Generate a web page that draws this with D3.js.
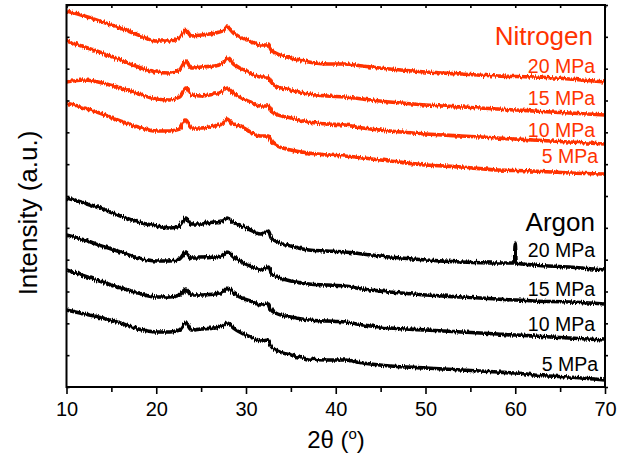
<!DOCTYPE html>
<html>
<head>
<meta charset="utf-8">
<script src="https://cdn.jsdelivr.net/npm/d3@7"></script>
<style>
  body { margin: 0; background: #fff; }
  svg text { font-family: "Liberation Sans", Arial, sans-serif; }
</style>
</head>
<body>
<svg id="chart" width="638" height="457"></svg>
<script>
// Diffraction angle 2θ (degrees) shared by all patterns
const twoTheta = [10, 12, 14, 16, 18, 20, 21.5, 22.6, 23.3, 23.9, 25, 26.5, 27.4, 27.9, 28.6, 29.3,
  30.5, 31.6, 32.5, 32.8, 33.3, 35, 37, 39, 41, 43, 46, 50, 54, 58, 59.9, 60, 60.1, 62, 66, 70];

// Stacked intensities (a.u.), Nitrogen atmosphere
const nitrogen20 = [376, 371, 365, 359, 352, 346, 346, 349, 357, 351, 352, 354, 356, 360, 354, 350,
  346, 342, 342, 337, 334, 329, 325, 323, 323, 321, 318, 315, 313, 311, 310.5, 310.5, 310.5, 310, 308, 305];
const nitrogen15 = [346, 340, 334, 327, 320, 315, 314, 317, 326, 319, 320, 321, 324, 329, 323, 319,
  314, 310, 310, 305, 301, 297, 293, 291, 290, 288, 285, 282, 280, 278, 277, 277, 277, 276, 274, 272];
const nitrogen10 = [305, 307, 304, 299, 293, 288, 287, 290, 299, 292, 291, 293, 295, 299, 294, 290,
  285, 281, 281, 276, 273, 269, 265, 263, 262, 259, 256, 253, 251, 249, 248, 248, 248, 247, 245, 243];
const nitrogen5 = [284, 279, 273, 266, 260, 256, 256, 258, 267, 259, 259, 261, 263, 268, 262, 261,
  255, 251, 251, 246, 242, 237, 234, 232, 231, 229, 226, 222, 220, 217, 216.5, 216.5, 216.5, 216, 214, 213];

// Stacked intensities (a.u.), Argon atmosphere
const argon20 = [189, 184, 178, 171, 165, 161, 159, 161, 169, 163, 163, 165, 166, 169, 165, 162,
  157, 153, 156, 149, 146, 141, 137, 136, 135, 133, 130, 127, 125, 124, 124, 144, 124, 122, 120, 117];
const argon15 = [152, 147, 141, 135, 129, 126, 126, 128, 135, 129, 129, 130, 132, 135, 130, 126,
  121, 117, 120, 114, 111, 106, 103, 102, 101, 98, 95, 92, 90, 88, 87, 87, 87, 86, 85, 83];
const argon10 = [117, 111, 105, 99, 94, 90, 90, 92, 98, 92, 92, 93, 95, 99, 94, 90,
  86, 82, 83, 77, 74, 70, 67, 66, 65, 62, 59, 57, 55, 53, 52, 52, 52, 51, 49, 47];
const argon5 = [77, 73, 69, 64, 58, 55, 55, 57, 64, 57, 58, 59, 61, 64, 59, 55,
  50, 46, 47, 41, 37, 32, 28, 27, 27, 24, 21, 19, 17, 15, 14, 14, 14, 12, 10, 7];

const pressures = ["20 MPa", "15 MPa", "10 MPa", "5 MPa"];
const gases = ["Nitrogen", "Argon"];
const xTickValues = [10, 20, 30, 40, 50, 60, 70];
const xMinorTickValues = [15, 25, 35, 45, 55, 65];

// ---- layout ----
const svg = d3.select("#chart");
const plot = { left: 66.5, right: 605, top: 5, bottom: 387 };
const red = "#ff3300";

const x = d3.scaleLinear().domain([10, 70]).range([plot.left, plot.right]);
const y = d3.scaleLinear().domain([0, 382]).range([plot.bottom, plot.top]);
const yTickValues = d3.range(13).map(i => i * 382 / 12);

const defs = svg.append("defs");
defs.append("clipPath").attr("id", "plotClip")
  .append("rect")
  .attr("x", plot.left).attr("y", plot.top)
  .attr("width", plot.right - plot.left).attr("height", plot.bottom - plot.top);

// detector-noise texture on the traces
const grain = defs.append("filter").attr("id", "grain")
  .attr("filterUnits", "userSpaceOnUse")
  .attr("x", 0).attr("y", 0).attr("width", 638).attr("height", 457);
grain.append("feTurbulence")
  .attr("type", "fractalNoise").attr("baseFrequency", "0.9 0.06")
  .attr("numOctaves", 2).attr("seed", 3).attr("result", "noise");
grain.append("feDisplacementMap")
  .attr("in", "SourceGraphic").attr("in2", "noise")
  .attr("scale", 4.5).attr("xChannelSelector", "R").attr("yChannelSelector", "G");

const line = d3.line()
  .x((d, i) => x(twoTheta[i]))
  .y(d => y(d))
  .curve(d3.curveMonotoneX);

const series = [
  { values: nitrogen20, color: red },
  { values: nitrogen15, color: red },
  { values: nitrogen10, color: red },
  { values: nitrogen5, color: red },
  { values: argon20, color: "#000" },
  { values: argon15, color: "#000" },
  { values: argon10, color: "#000" },
  { values: argon5, color: "#000" }
];

svg.append("g").attr("clip-path", "url(#plotClip)")
  .append("g").attr("filter", "url(#grain)")
  .selectAll("path").data(series).join("path")
  .attr("d", s => line(s.values))
  .attr("fill", "none")
  .attr("stroke", s => s.color)
  .attr("stroke-width", 3.6)
  .attr("stroke-linejoin", "round");

// ---- axes ----
const bottomAxis = svg.append("g")
  .attr("transform", `translate(0,${plot.bottom})`)
  .call(d3.axisBottom(x).tickValues(xTickValues).tickSize(7).tickPadding(8).tickFormat(d3.format("d")));
bottomAxis.append("g")
  .call(d3.axisBottom(x).tickValues(xMinorTickValues).tickSize(5).tickFormat(""));

svg.append("g")
  .attr("transform", `translate(0,${plot.top})`)
  .call(d3.axisBottom(x).tickValues(xTickValues.concat(xMinorTickValues)).tickSize(3).tickFormat(""));

svg.append("g")
  .attr("transform", `translate(${plot.left},0)`)
  .call(d3.axisRight(y).tickValues(yTickValues).tickSize(3).tickFormat(""));
svg.append("g")
  .attr("transform", `translate(${plot.right},0)`)
  .call(d3.axisRight(y).tickValues(yTickValues).tickSize(3).tickFormat(""));

svg.selectAll(".domain").remove();
svg.selectAll(".tick line").attr("stroke", "#000").attr("stroke-width", 1.6);
svg.selectAll(".tick text")
  .attr("fill", "#000")
  .style("font-family", "'Liberation Sans', Arial, sans-serif")
  .style("font-size", "20px");

// frame
svg.append("rect")
  .attr("x", plot.left).attr("y", plot.top)
  .attr("width", plot.right - plot.left).attr("height", plot.bottom - plot.top)
  .attr("fill", "none").attr("stroke", "#000").attr("stroke-width", 2);

// axis titles
const xTitle = svg.append("text")
  .attr("x", 336)
  .attr("y", 448)
  .attr("text-anchor", "middle")
  .style("font-size", "24px")
  .attr("fill", "#000");
xTitle.append("tspan").text("2θ (");
xTitle.append("tspan").attr("dy", -9).style("font-size", "15px").text("o");
xTitle.append("tspan").attr("dy", 9).text(")");

svg.append("text")
  .attr("transform", `translate(37,213) rotate(-90)`)
  .attr("text-anchor", "middle")
  .style("font-size", "26px")
  .attr("fill", "#000")
  .text("Intensity (a.u.)");

// gas and pressure labels
const labelRight = 595;
svg.append("text").attr("x", labelRight - 2).attr("y", 45)
  .attr("text-anchor", "end").style("font-size", "26px").attr("fill", red).text(gases[0]);
svg.append("text").attr("x", labelRight).attr("y", 231)
  .attr("text-anchor", "end").style("font-size", "26px").attr("fill", "#000").text(gases[1]);

const nitrogenBaselines = [73, 105, 137, 163];
const argonBaselines = [257, 296, 331, 371];
pressures.forEach((p, i) => {
  const nudge = p.length < 6 ? 3 : 0;
  svg.append("text").attr("x", labelRight + nudge).attr("y", nitrogenBaselines[i])
    .attr("text-anchor", "end").style("font-size", "19.5px").attr("fill", red).text(p);
  svg.append("text").attr("x", labelRight + nudge).attr("y", argonBaselines[i])
    .attr("text-anchor", "end").style("font-size", "19.5px").attr("fill", "#000").text(p);
});
</script>
</body>
</html>
